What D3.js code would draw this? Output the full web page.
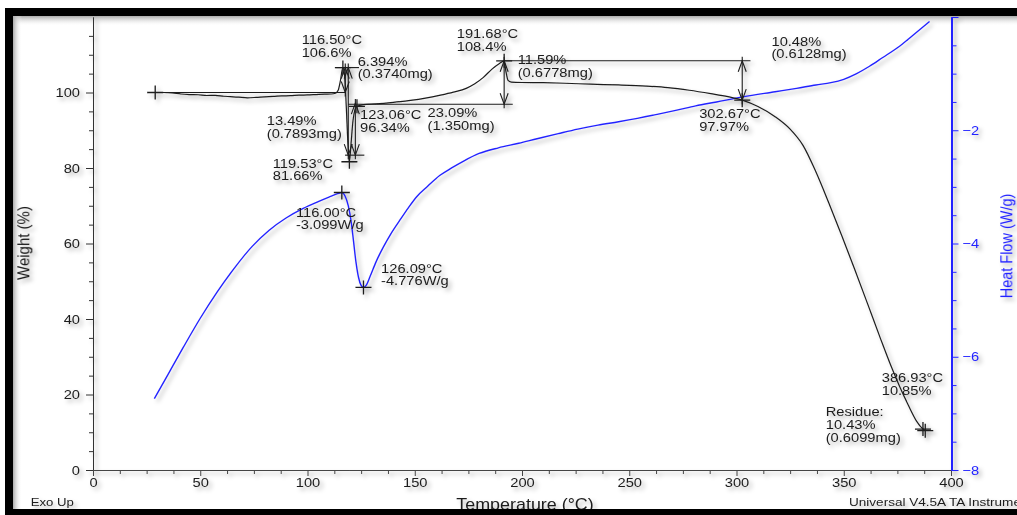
<!DOCTYPE html>
<html>
<head>
<meta charset="utf-8">
<script src="https://cdn.jsdelivr.net/npm/d3@7"></script>
<style>
  html, body { margin: 0; padding: 0; background: #fff; }
  svg { display: block; font-family: "Liberation Sans", Arial, sans-serif; }
</style>
</head>
<body>
<svg id="chart" width="1017" height="515"></svg>
<script>
// ---- TGA weight curve: temperature (°C) and weight (%) ----
const weightTemp = [29, 33, 37, 41, 45, 49, 53, 57, 61, 64, 68, 72, 76, 80, 84, 88, 92, 96, 100, 104, 108, 111, 113,
  114.3, 115.3, 116.5, 117.3, 118.1, 118.9, 119.53, 120.3, 121.2, 122.1, 123.06,
  126, 132, 140, 148, 155, 162, 168, 174, 178, 182, 186, 189.5, 191.68,
  192.5, 193.5, 195, 200, 210, 220, 232, 245, 258, 268, 278, 288, 296, 302.67,
  310, 318, 325, 331, 337, 343, 349, 355, 361, 367, 372, 376, 380, 384, 386.93, 388];
const weightPct = [100, 100.0, 99.9, 99.6, 99.45, 99.4, 99.2, 99.25, 99.0, 98.9, 98.75, 98.6, 98.7, 98.85, 98.95, 99.1, 99.15, 99.3, 99.35, 99.45, 99.55, 99.6, 99.8,
  100.6, 103, 106.6, 104.5, 96, 86, 81.66, 86.5, 92.5, 95.4, 96.34,
  96.8, 97.0, 97.4, 97.9, 98.5, 99.3, 100.1, 101.1, 102.3, 104.0, 106.2, 107.7, 108.4,
  105.6, 103.2, 102.75, 102.65, 102.6, 102.45, 102.2, 102.0, 101.7, 101.3, 100.6, 99.7, 98.9, 97.97,
  96.3, 93.6, 90.3, 86.0, 79.0, 70.8, 62.2, 53.3, 44.2, 35.0, 27.6, 22.2, 17.3, 12.9, 10.85, 10.43];

// ---- DSC heat flow curve: temperature (°C) and heat flow (W/g) ----
const heatTemp = [28.6, 35, 42, 50, 58, 66, 74, 82, 90, 98, 105, 110, 114, 116.0, 117.5, 119, 120.3, 121.4, 122.6, 123.8, 125, 126.09,
  127.5, 129.2, 132, 135.4, 139, 143.2, 147, 151, 156, 161.6, 167, 173, 180, 189, 198.5, 207, 216.9, 226, 235.4, 245, 253.8,
  263, 272.2, 281, 290.7, 303, 318, 328, 337, 344, 350, 356, 362, 368, 375.5, 382, 390];
const heatFlow = [-6.74, -6.31, -5.84, -5.32, -4.85, -4.43, -4.06, -3.77, -3.55, -3.38, -3.26, -3.18, -3.12, -3.099, -3.16, -3.33, -3.60, -3.94, -4.33, -4.60, -4.74, -4.776,
  -4.73, -4.58, -4.32, -4.06, -3.82, -3.58, -3.37, -3.17, -2.99, -2.80, -2.67, -2.54, -2.41, -2.31, -2.23, -2.15, -2.06, -1.98, -1.91, -1.85, -1.79,
  -1.72, -1.645, -1.57, -1.50, -1.41, -1.32, -1.26, -1.20, -1.16, -1.10, -1.00, -0.87, -0.72, -0.53, -0.33, -0.08];

// ---- axis ticks ----
const tempTicks = [0, 50, 100, 150, 200, 250, 300, 350, 400];
const weightTicks = [0, 20, 40, 60, 80, 100];
const heatTicks = [-8, -6, -4, -2];

// ---- analysis marks: crosshair points [temperature, weight] ----
const weightPoints = [[29, 100], [116.5, 106.6], [119.53, 81.66], [123.06, 96.34], [191.68, 108.4], [302.67, 97.97], [386.93, 10.85], [388, 10.43]];
const heatPoints = [[116.0, -3.099], [126.09, -4.776]];
// step baselines: [weight, from °C, to °C]
const stepBaselines = [[100, 29, 117.5], [106.6, 113, 124], [83.4, 117.5, 126.5], [96.9, 119, 195.7], [108.4, 191.68, 306.5]];
// step arrows: [°C, upper weight, lower weight]
const stepArrows = [[117.6, 106.6, 100], [119.0, 106.6, 83.4], [122.3, 97.2, 83.4], [191.68, 108.4, 96.9], [302.67, 108.4, 97.97]];

// ---- annotation labels anchored in data units ----
const weightLabels = [
  { t: 97.3, w: 112.9, lines: ["116.50°C", "106.6%"] },
  { t: 123.4, w: 107.1, lines: ["6.394%", "(0.3740mg)"] },
  { t: 81.0, w: 91.4, lines: ["13.49%", "(0.7893mg)"] },
  { t: 124.5, w: 93.0, lines: ["123.06°C", "96.34%"] },
  { t: 156.0, w: 93.5, lines: ["23.09%", "(1.350mg)"] },
  { t: 83.8, w: 80.1, lines: ["119.53°C", "81.66%"] },
  { t: 169.6, w: 114.4, lines: ["191.68°C", "108.4%"] },
  { t: 198.0, w: 107.6, lines: ["11.59%", "(0.6778mg)"] },
  { t: 316.3, w: 112.4, lines: ["10.48%", "(0.6128mg)"] },
  { t: 282.6, w: 93.2, lines: ["302.67°C", "97.97%"] },
  { t: 367.7, w: 23.2, lines: ["386.93°C", "10.85%"] },
  { t: 341.6, w: 14.3, lines: ["Residue:", "10.43%", "(0.6099mg)"] }
];
const heatLabels = [
  { t: 94.6, h: -3.525, lines: ["116.00°C", "-3.099W/g"] },
  { t: 134.3, h: -4.514, lines: ["126.09°C", "-4.776W/g"] }
];

// ---- layout ----
const svg = d3.select("#chart");
const SX = 1.13;             // horizontal glyph stretch of the instrument font
const ink = "#1c1c1c";
const blue = "#2424ff";

const x = d3.scaleLinear().domain([0, 400]).range([93, 951]);
const yW = d3.scaleLinear().domain([0, 120]).range([470, 17]);
const yH = d3.scaleLinear().domain([-8, 0]).range([470, 17]);

const defs = svg.append("defs");
const f = defs.append("filter").attr("id", "soft")
  .attr("filterUnits", "userSpaceOnUse").attr("x", 0).attr("y", 0).attr("width", 1017).attr("height", 515);
f.append("feDropShadow").attr("dx", 3).attr("dy", 3).attr("stdDeviation", 2)
  .attr("flood-color", "#000").attr("flood-opacity", 0.32);

const gTop = defs.append("linearGradient").attr("id", "shTop").attr("x1", 0).attr("y1", 0).attr("x2", 0).attr("y2", 1);
gTop.append("stop").attr("offset", 0).attr("stop-color", "#aaa");
gTop.append("stop").attr("offset", 1).attr("stop-color", "#fff").attr("stop-opacity", 0);
const gLeft = defs.append("linearGradient").attr("id", "shLeft").attr("x1", 0).attr("y1", 0).attr("x2", 1).attr("y2", 0);
gLeft.append("stop").attr("offset", 0).attr("stop-color", "#aaa");
gLeft.append("stop").attr("offset", 1).attr("stop-color", "#fff").attr("stop-opacity", 0);

svg.append("rect").attr("width", 1017).attr("height", 515).attr("fill", "#fff");
svg.append("rect").attr("x", 13).attr("y", 16).attr("width", 1004).attr("height", 10).attr("fill", "url(#shTop)");
svg.append("rect").attr("x", 13).attr("y", 16).attr("width", 9).attr("height", 493).attr("fill", "url(#shLeft)");

const plot = svg.append("g").attr("filter", "url(#soft)");

function stretchTicks(sel) {
  sel.selectAll(".tick text").each(function () {
    const t = d3.select(this);
    const xv = t.attr("x");
    if (xv !== null) t.attr("x", +xv / SX);
    t.attr("transform", `scale(${SX},1)`);
  });
}

// left weight axis
const minorW = d3.range(0, 120.01, 5).filter(v => v % 20 !== 0);
plot.append("g").attr("transform", "translate(93,0)")
  .call(d3.axisLeft(yW).tickValues(minorW).tickSize(4).tickSizeOuter(0).tickFormat(""))
  .call(g => g.selectAll("line,path").attr("stroke", "#333"));
plot.append("g").attr("transform", "translate(93,0)")
  .call(d3.axisLeft(yW).tickValues(weightTicks).tickSize(7).tickPadding(6).tickSizeOuter(0))
  .call(g => g.selectAll("line,path").attr("stroke", "#333"))
  .call(g => g.selectAll("text").attr("fill", ink).attr("font-size", 13).attr("font-family", null))
  .call(stretchTicks);

// bottom temperature axis
const minorT = d3.range(0, 400.01, 12.5).filter(v => v % 50 !== 0);
plot.append("g").attr("transform", "translate(0,470)")
  .call(d3.axisBottom(x).tickValues(minorT).tickSize(4).tickSizeOuter(0).tickFormat(""))
  .call(g => g.selectAll("line,path").attr("stroke", "#444"));
plot.append("g").attr("transform", "translate(0,470)")
  .call(d3.axisBottom(x).tickValues(tempTicks).tickSize(6).tickPadding(2).tickSizeOuter(0))
  .call(g => g.selectAll("line,path").attr("stroke", "#444"))
  .call(g => g.selectAll("text").attr("fill", ink).attr("font-size", 13).attr("font-family", null))
  .call(stretchTicks);

// right heat-flow axis
const minorH = d3.range(-8, 0.01, 0.5).filter(v => v % 2 !== 0);
plot.append("g").attr("transform", "translate(951.5,0)")
  .call(d3.axisRight(yH).tickValues(minorH).tickSize(5).tickSizeOuter(0).tickFormat(""))
  .call(g => g.selectAll("line").attr("stroke", blue))
  .call(g => g.select(".domain").attr("stroke", blue).attr("stroke-width", 2));
plot.append("g").attr("transform", "translate(951.5,0)")
  .call(d3.axisRight(yH).tickValues(heatTicks.concat([0])).tickSize(7).tickPadding(4).tickSizeOuter(0)
    .tickFormat(d => d === 0 ? "" : d3.format("d")(d)))
  .call(g => g.selectAll("line").attr("stroke", blue))
  .call(g => g.select(".domain").attr("stroke", blue).attr("stroke-width", 2))
  .call(g => g.selectAll("text").attr("fill", blue).attr("font-size", 13).attr("font-family", null))
  .call(stretchTicks);

// curves
const heatLine = d3.line().x(d => x(d[0])).y(d => yH(d[1])).curve(d3.curveMonotoneX);
plot.append("path").datum(heatTemp.map((t, i) => [t, heatFlow[i]]))
  .attr("d", heatLine).attr("fill", "none").attr("stroke", blue).attr("stroke-width", 1.4);

const weightLine = d3.line().x(d => x(d[0])).y(d => yW(d[1])).curve(d3.curveMonotoneX);
plot.append("path").datum(weightTemp.map((t, i) => [t, weightPct[i]]))
  .attr("d", weightLine).attr("fill", "none").attr("stroke", ink).attr("stroke-width", 1.2);

// step analysis marks
const marks = plot.append("g").attr("stroke", ink).attr("stroke-width", 1.1).attr("fill", "none");
stepBaselines.forEach(([w, t0, t1]) => {
  marks.append("line").attr("x1", x(t0)).attr("x2", x(t1)).attr("y1", yW(w)).attr("y2", yW(w));
});
stepArrows.forEach(([t, wHi, wLo]) => {
  const px = x(t), top = yW(wHi), bot = yW(wLo);
  marks.append("line").attr("x1", px).attr("x2", px).attr("y1", top - 4).attr("y2", bot + 4);
  marks.append("path").attr("d", `M${px - 4},${top + 11}L${px},${top}L${px + 4},${top + 11}`);
  marks.append("path").attr("d", `M${px - 4},${bot - 11}L${px},${bot}L${px + 4},${bot - 11}`);
});
function cross(px, py) {
  marks.append("path").attr("d", `M${px - 8},${py}H${px + 8}M${px},${py - 7}V${py + 7}`).attr("stroke-width", 1.3);
}
weightPoints.forEach(([t, w]) => cross(x(t), yW(w)));
heatPoints.forEach(([t, h]) => cross(x(t), yH(h)));

// annotation text
function label(g, px, py, lines, size, color) {
  const t = g.append("text").attr("transform", `translate(${px},${py}) scale(${SX},1)`)
    .attr("font-size", size).attr("fill", color);
  lines.forEach((s, i) => t.append("tspan").attr("x", 0).attr("dy", i ? 12.8 : 0).text(s));
  return t;
}
const notes = plot.append("g");
weightLabels.forEach(d => label(notes, x(d.t), yW(d.w), d.lines, 13, ink));
heatLabels.forEach(d => label(notes, x(d.t), yH(d.h), d.lines, 13, ink));

// axis titles and footer
plot.append("text").attr("transform", "translate(29,243) rotate(-90) scale(1,1.12)")
  .attr("text-anchor", "middle").attr("font-size", 15).attr("fill", ink).text("Weight (%)");
plot.append("text").attr("transform", "translate(1012,246) rotate(-90) scale(1,1.12)")
  .attr("text-anchor", "middle").attr("font-size", 14.5).attr("fill", blue).text("Heat Flow (W/g)");
plot.append("text").attr("transform", "translate(525,509.5) scale(1.12,1)")
  .attr("text-anchor", "middle").attr("font-size", 16).attr("fill", ink).text("Temperature (°C)");
plot.append("text").attr("transform", "translate(30.7,505.5) scale(1.2,1)")
  .attr("font-size", 11).attr("fill", ink).text("Exo Up");
plot.append("text").attr("transform", "translate(849,505.5) scale(1.2,1)")
  .attr("font-size", 11.3).attr("fill", ink).text("Universal V4.5A TA Instruments");

// black frame
svg.append("rect").attr("x", 5).attr("y", 8).attr("width", 1012).attr("height", 8).attr("fill", "#000");
svg.append("rect").attr("x", 5).attr("y", 8).attr("width", 8).attr("height", 507).attr("fill", "#000");
svg.append("rect").attr("x", 5).attr("y", 509).attr("width", 1012).attr("height", 6).attr("fill", "#000");
</script>
</body>
</html>
